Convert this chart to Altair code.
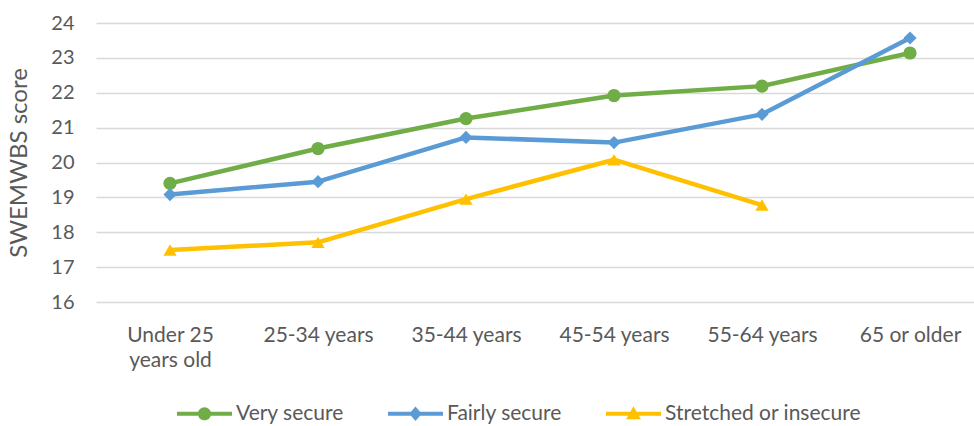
import altair as alt
import pandas as pd

# Mean SWEMWBS wellbeing score by age group and financial security
age_groups = ["Under 25 years old", "25-34 years", "35-44 years",
              "45-54 years", "55-64 years", "65 or older"]
series_names = ["Very secure", "Fairly secure", "Stretched or insecure"]

very_secure = [19.40, 20.40, 21.26, 21.92, 22.19, 23.14]
fairly_secure = [19.08, 19.45, 20.72, 20.57, 21.38, 23.57]
stretched_or_insecure = [17.49, 17.71, 18.95, 20.08, 18.78, None]

y_ticks = [16, 17, 18, 19, 20, 21, 22, 23, 24]

colors = ["#70AD47", "#5B9BD5", "#FFC000"]
marker_shapes = ["circle", "diamond", "triangle-up"]

# Legend symbols: a short line segment with the series marker on top
# (custom paths are scaled by sqrt(size) / 2)
legend_shapes = [
    "M-1,-0.075L1,-0.075L1,0.075L-1,0.075Z"
    "M-0.24,0A0.24,0.24 0 1,1 0.24,0A0.24,0.24 0 1,1 -0.24,0Z",
    "M-1,-0.075L1,-0.075L1,0.075L-1,0.075Z"
    "M0,-0.26L0.23,0L0,0.26L-0.23,0Z",
    "M-1,-0.075L1,-0.075L1,0.075L-1,0.075Z"
    "M0,-0.27L0.27,0.2L-0.27,0.2Z",
]

rows = []
for name, values in zip(series_names, [very_secure, fairly_secure, stretched_or_insecure]):
    for i, (age, v) in enumerate(zip(age_groups, values)):
        if v is not None:
            rows.append({"Age": age, "AgeIndex": i, "Series": name, "Score": v})
df = pd.DataFrame(rows)

FONT = "Lato"
TEXT = "#595959"

x_enc = alt.X(
    "Age:N",
    sort=age_groups,
    # point scale spread over six equal bands; the last half-band runs past the right edge
    scale=alt.Scale(domain=age_groups, range=[0, 888], padding=0.5),
    axis=alt.Axis(
        title=None, labelAngle=0, domain=False, ticks=False, grid=False,
        labelFont=FONT, labelFontSize=21, labelColor=TEXT,
        labelPadding=22, labelLimit=300, labelLineHeight=25,
        labelBaseline="top",
        labelExpr="datum.value == 'Under 25 years old' ? ['Under 25', 'years old'] : datum.value",
    ),
)
y_enc = alt.Y(
    "Score:Q",
    scale=alt.Scale(domain=[16, 24], nice=False, zero=False),
    axis=alt.Axis(
        title="SWEMWBS score", values=y_ticks, format="d",
        domain=False, ticks=False, grid=True,
        gridColor="#D9D9D9", gridWidth=1.4,
        labelFont=FONT, labelFontSize=20, labelColor=TEXT, labelPadding=22,
        titleFont=FONT, titleFontSize=24, titleColor=TEXT,
        titleFontWeight="normal", titlePadding=19,
    ),
)

base = alt.Chart(df)

lines = base.mark_line(strokeWidth=4.5, strokeJoin="round").encode(
    x=x_enc, y=y_enc,
    color=alt.Color("Series:N", scale=alt.Scale(domain=series_names, range=colors), legend=None),
    detail="Series:N",
    order=alt.Order("AgeIndex:Q"),
)

markers = base.mark_point(filled=True, opacity=1, size=175).encode(
    x=x_enc, y=y_enc,
    color=alt.Color("Series:N", scale=alt.Scale(domain=series_names, range=colors), legend=None),
    shape=alt.Shape("Series:N", scale=alt.Scale(domain=series_names, range=marker_shapes), legend=None),
)

legend_props = dict(
    title=None, orient="none", legendX=81, legendY=363, direction="horizontal",
    columns=3, padding=0, columnPadding=44, labelOffset=4,
    labelFont=FONT, labelFontSize=21, labelColor=TEXT, labelLimit=400,
    symbolSize=3025, symbolOpacity=1, symbolStrokeWidth=0,
)

legend_layer = base.mark_point(filled=True, opacity=0, size=3025).encode(
    x=x_enc, y=y_enc,
    color=alt.Color(
        "Series:N", scale=alt.Scale(domain=series_names, range=colors),
        legend=alt.Legend(**legend_props),
    ),
    shape=alt.Shape(
        "Series:N", scale=alt.Scale(domain=series_names, range=legend_shapes),
        legend=alt.Legend(**legend_props),
    ),
)

chart = (
    alt.layer(lines, markers, legend_layer)
    .resolve_scale(color="independent", shape="independent")
    .properties(
        width=878, height=279,
        autosize=alt.AutoSizeParams(type="none"),
        padding={"left": 96, "top": 23, "right": 0, "bottom": 124},
        background="white",
    )
    .configure_view(stroke=None)
)

chart.save("out.html", embed_options={"renderer": "svg", "actions": False})
